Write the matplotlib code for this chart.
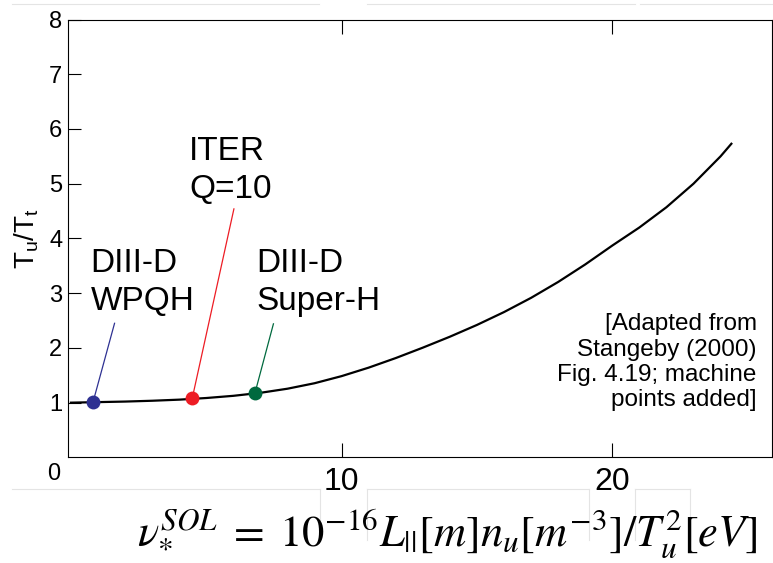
import matplotlib
matplotlib.use('Agg')
import matplotlib.pyplot as plt
from matplotlib.lines import Line2D

plt.rcParams['font.family'] = ['Liberation Sans', 'DejaVu Sans']
plt.rcParams['mathtext.fontset'] = 'stix'

# Upstream/target temperature ratio vs SOL collisionality
nu_sol = [0, 1, 2, 3, 4, 5, 6, 7, 8, 9, 10, 11, 12, 13, 14, 15, 16, 17, 18, 19,
          20, 21, 22, 23, 24, 24.4]
temp_ratio = [1.00, 1.01, 1.02, 1.035, 1.055, 1.085, 1.125, 1.18, 1.255, 1.355,
              1.485, 1.64, 1.815, 2.005, 2.205, 2.42, 2.655, 2.915, 3.205, 3.525,
              3.87, 4.20, 4.57, 5.00, 5.50, 5.73]

# Machine operating points
machines = ['DIII-D\nWPQH', 'ITER\nQ=10', 'DIII-D\nSuper-H']
machine_nu = [0.82, 4.48, 6.80]
machine_ratio = [1.02, 1.08, 1.18]
machine_colors = ['#2e3192', '#ed1c24', '#00693e']

# label anchors (last-line baseline) and leader line ends
label_xy = [(0.72, 2.69), (4.36, 4.74), (6.86, 2.69)]
leader_xy = [(1.61, 2.45), (6.02, 4.54), (7.48, 2.44)]

x_ticks = [10, 20]
y_ticks = [1, 2, 3, 4, 5, 6, 7, 8]

W, H = 773, 563
fig = plt.figure(figsize=(W / 100, H / 100), dpi=100)
ax = fig.add_axes([68 / W, (H - 457.4) / H, (771.7 - 68) / W, (457.4 - 19.5) / H])

ax.plot(nu_sol, temp_ratio, color='black', lw=1.6, zorder=3,
        solid_joinstyle='round')

for name, x, y, c, (tx, ty), (lx, ly) in zip(machines, machine_nu, machine_ratio,
                                               machine_colors, label_xy, leader_xy):
    ax.plot([x, lx], [y, ly], color=c, lw=0.9, zorder=2)
    ax.plot(x, y, 'o', color=c, ms=10, mec='none', zorder=4)
    ax.text(tx, ty, name, fontsize=24, ha='left', va='baseline', linespacing=1.3)

ax.text(25.34, 0.93, '[Adapted from\nStangeby (2000)\nFig. 4.19; machine\npoints added]',
        fontsize=17.5, ha='right', va='baseline', multialignment='right',
        linespacing=1.2)

ax.set_xlim(-0.11, 25.89)
ax.set_ylim(0, 8)
ax.set_xticks(x_ticks)
ax.set_yticks(y_ticks)
ax.tick_params(axis='x', direction='in', length=10, width=0.8, top=True,
               labelsize=23, pad=7)
ax.tick_params(axis='y', direction='in', length=9, width=0.8, labelsize=17, pad=4)
for s in ax.spines.values():
    s.set_linewidth(0.8)

ax.set_ylabel(r'$\mathregular{T_u/T_t}$', fontsize=20)
ax.yaxis.set_label_coords(-0.038, 0.5)

fig.text(54 / W, 1 - 474 / H, '0', fontsize=17, ha='center', va='center')

fig.text(447 / W, 1 - 534 / H,
         r'$\nu_{*}^{SOL}\;=\;10^{-16}L_{||}[m]n_u[m^{-3}]/T_u^2[eV]$',
         fontsize=32, ha='center', va='center')

# faint text-box outlines around the page elements
box_color = '#e4e4e4'
segments = [
    ([12, 319], [4, 4]), ([367, 635], [4, 4]), ([640, 773], [4, 4]),
    ([12, 320], [489, 489]), ([320, 320], [489, 540]),
    ([367, 589], [489, 489]), ([367, 367], [489, 540]), ([589, 589], [489, 540]),
    ([635, 690], [489, 489]), ([635, 635], [489, 540]), ([690, 690], [489, 540]),
]
for xs, ys in segments:
    fig.add_artist(Line2D([v / W for v in xs], [1 - v / H for v in ys],
                          color=box_color, lw=0.8, zorder=0))

fig.savefig('out.png', dpi=100)
